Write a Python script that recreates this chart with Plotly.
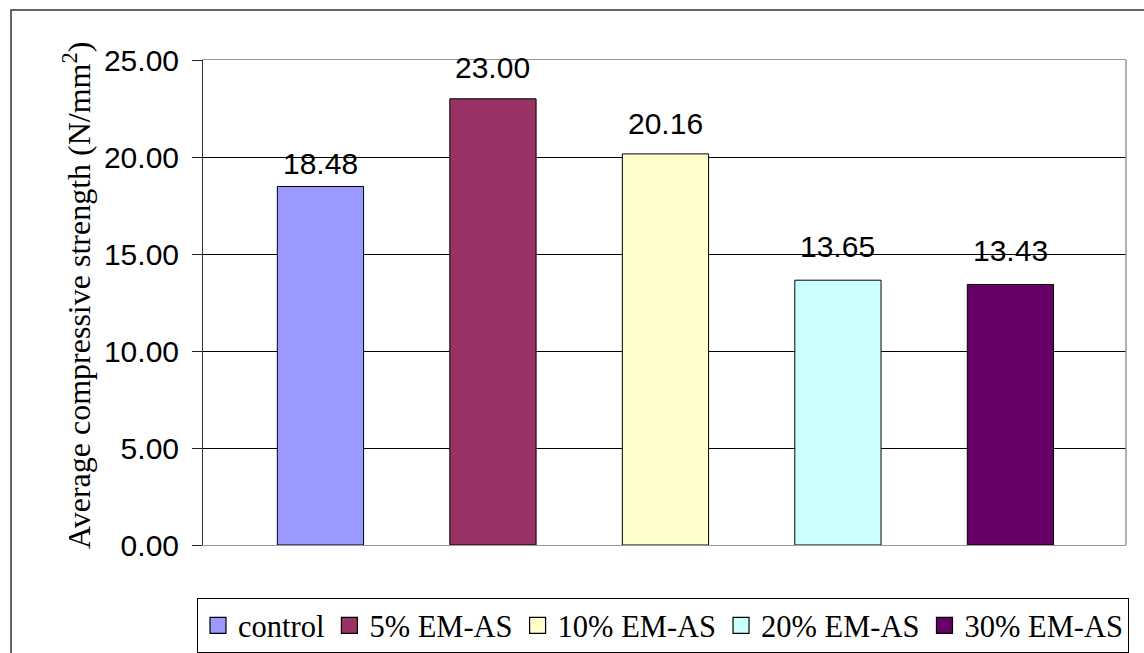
import plotly.graph_objects as go

# Mix labels and measured average compressive strength (N/mm^2)
mixes = ["control", "5% EM-AS", "10% EM-AS", "20% EM-AS", "30% EM-AS"]
strength = [18.48, 23.00, 20.16, 13.65, 13.43]
bar_colors = ["#9999FF", "#993366", "#FFFFCC", "#CCFFFF", "#660066"]
y_ticks = [0, 5, 10, 15, 20, 25]

# vertical offset (px) of each value label above its bar
label_offsets = [4, 13, 12, 15, 15]

W, H = 1144, 653
SANS = "Liberation Sans, Arial, sans-serif"
SERIF = "Liberation Serif, Times New Roman, serif"

fig = go.Figure()
for i, (name, val, col) in enumerate(zip(mixes, strength, bar_colors)):
    fig.add_trace(go.Bar(
        x=[i], y=[val], name=name, width=0.5, showlegend=False,
        marker=dict(color=col, line=dict(color="black", width=1)),
    ))
    # value label above the bar
    fig.add_annotation(
        x=i, y=val, xref="x", yref="y", text=f"{val:.2f}",
        showarrow=False, yanchor="bottom", yshift=label_offsets[i],
        font=dict(family=SANS, size=30, color="black"),
    )
    # legend entry with a square key
    fig.add_trace(go.Scatter(
        x=[None], y=[None], name=name, mode="markers",
        marker=dict(symbol="square", size=16, color=col,
                    line=dict(color="black", width=1.2)),
    ))

# plot area in pixels
px0, px1 = 203, 1126
py_top, py_bot = 60, 545

fig.update_layout(
    width=W, height=H,
    margin=dict(l=0, r=0, t=0, b=0, autoexpand=False),
    paper_bgcolor="white", plot_bgcolor="white",
    barmode="overlay",
    showlegend=True,
    legend=dict(
        orientation="h", x=197 / W, xanchor="left",
        y=(H - 598) / H, yanchor="top",
        bordercolor="black", borderwidth=1,
        font=dict(family=SERIF, size=30.5, color="black"),
        bgcolor="white", traceorder="normal", itemsizing="trace",
    ),
    xaxis=dict(
        domain=[px0 / W, px1 / W],
        range=[-0.681, 4.670],
        showticklabels=False, ticks="", showgrid=False, zeroline=False,
        showline=True, linecolor="#999999", linewidth=1, mirror=True,
    ),
    yaxis=dict(
        domain=[(H - py_bot) / H, (H - py_top) / H],
        range=[0, 25], tickvals=y_ticks, tickformat=".2f",
        ticks="outside", ticklen=10, tickcolor="#222222", tickwidth=1,
        ticklabelstandoff=7,
        tickfont=dict(family=SANS, size=30, color="black"),
        showgrid=True, gridcolor="black", gridwidth=1,
        zeroline=False,
        showline=True, linecolor="#333333", linewidth=1,
    ),
)

# right edge of the plot area
fig.add_shape(type="line", xref="paper", yref="paper",
              x0=px1 / W, x1=px1 / W, y0=(H - py_bot) / H, y1=(H - py_top) / H,
              line=dict(color="#999999", width=1.5))

# outer chart frame
fig.add_shape(type="rect", xref="paper", yref="paper",
              x0=11 / W, x1=1.2, y0=-0.2, y1=(H - 10) / H,
              line=dict(color="#333333", width=1.5), layer="below")

# axis title
fig.add_annotation(
    text="Average compressive strength (N/mm<sup>2</sup>)",
    xref="paper", yref="paper", x=77 / W, y=(H - 296) / H,
    xanchor="center", yanchor="middle", textangle=-90, showarrow=False,
    font=dict(family=SERIF, size=32, color="black"),
)

fig.write_html("out.html")
